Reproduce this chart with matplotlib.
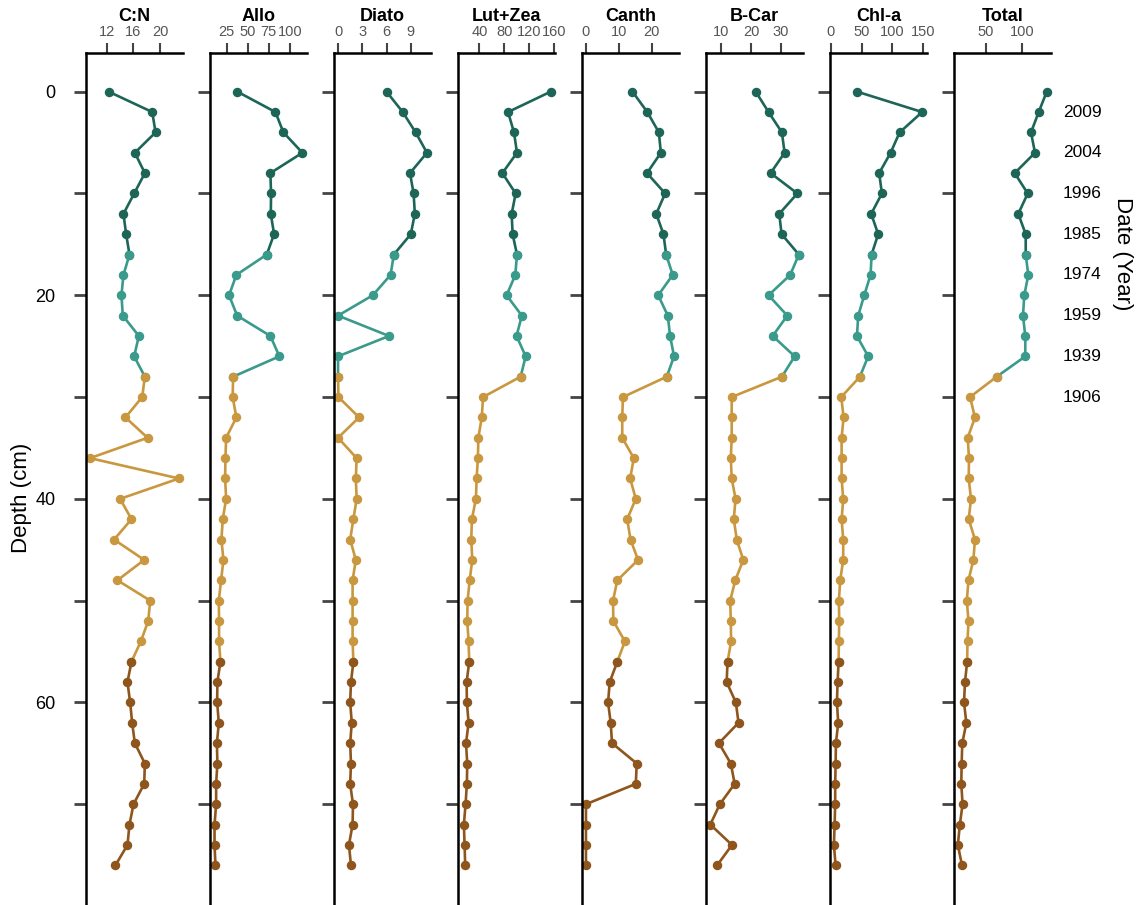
import numpy as np
import matplotlib
matplotlib.use("Agg")
import matplotlib.pyplot as plt

plt.rcParams['font.family'] = ['Liberation Sans', 'DejaVu Sans']

# depth of each sample (cm)
depth = np.arange(0, 78, 2)

cn = [12.3, 18.8, 19.3, 16.2, 17.7, 16.1, 14.5, 14.9, 15.4, 14.5, 14.2, 14.4, 16.8,
      16.1, 17.7, 17.3, 14.8, 18.1, 9.5, 22.8, 14.0, 15.7, 13.1, 17.6, 13.6, 18.5,
      18.2, 17.1, 15.7, 15.1, 15.5, 15.8, 16.2, 17.7, 17.6, 16.0, 15.4, 15.1, 13.3]
allo = [37.6, 82.9, 92.4, 115, 76.9, 77.7, 77.4, 81.3, 72.6, 36.4, 27.7, 37.3, 76.9,
        87.6, 32.5, 32.0, 36.4, 24.2, 23.4, 23.0, 24.2, 20.2, 18.6, 21.0, 18.2, 15.5,
        15.8, 15.8, 17.4, 13.8, 13.5, 15.5, 13.2, 13.8, 12.3, 12.3, 10.4, 10.4, 11.5]
diato = [6.0, 8.0, 9.6, 11.0, 8.9, 9.35, 9.5, 9.0, 6.9, 6.5, 4.3, 0.0, 6.3,
         0.0, 0.0, 0.05, 2.6, 0.0, 2.3, 2.2, 2.3, 1.9, 1.5, 2.2, 1.8, 1.8,
         1.8, 1.8, 1.9, 1.6, 1.5, 1.7, 1.5, 1.6, 1.5, 1.85, 1.8, 1.35, 1.6]
lutzea = [155, 86.3, 95.9, 100.7, 77.1, 98.6, 92.1, 93.7, 100.7, 98.0, 84.0, 108.5, 100.0,
          114.7, 106.6, 46.0, 43.9, 38.4, 37.7, 35.6, 34.5, 28.0, 27.0, 28.6, 24.4, 21.1,
          20.5, 22.7, 23.7, 19.5, 19.9, 22.7, 18.5, 20.5, 19.9, 17.8, 15.1, 16.2, 17.2]
canth = [14.2, 18.7, 22.2, 22.8, 18.6, 24.1, 21.4, 23.6, 24.4, 26.4, 22.0, 24.9, 25.6,
         26.8, 24.6, 11.3, 11.1, 11.1, 14.6, 13.5, 15.2, 12.6, 13.6, 15.9, 9.6, 8.3,
         8.4, 11.9, 9.6, 7.3, 6.8, 7.6, 8.0, 15.5, 15.2, 0.1, 0.1, 0.1, 0.1]
bcar = [21.6, 25.9, 30.4, 31.3, 26.6, 35.6, 29.5, 30.3, 36.1, 33.2, 25.9, 32.2, 27.3,
        34.7, 30.4, 13.5, 13.5, 13.5, 13.2, 13.5, 14.8, 14.2, 15.2, 17.4, 14.7, 13.0,
        13.2, 13.3, 12.1, 11.8, 14.9, 15.8, 9.2, 13.2, 14.5, 9.5, 6.3, 13.6, 8.6]
chla = [43, 148.2, 111.7, 97.1, 78.6, 83.0, 65.7, 77.0, 66.3, 64.7, 54.4, 44.7, 42.6,
        60.8, 47.4, 17.2, 21.0, 17.8, 17.8, 17.8, 20.4, 17.8, 20.4, 20.4, 15.5, 13.4,
        13.9, 13.4, 12.9, 11.3, 10.2, 12.3, 8.6, 8.1, 7.4, 7.4, 6.5, 5.3, 8.1]
total = [135, 123.8, 113, 118.6, 90.2, 108.4, 95.2, 105.6, 105.6, 109.2, 103.6, 101.8, 105,
         105, 65, 27.6, 34.6, 24.4, 26.2, 25.8, 29.0, 25.8, 34.6, 32.3, 25.5, 23.1,
         25.5, 24.1, 23.6, 20.6, 19.2, 22.5, 16.8, 15.9, 15.4, 17.2, 13.4, 10.6, 16.4]

titles = ["C:N", "Allo", "Diato", "Lut+Zea", "Canth", "B-Car", "Chl-a", "Total"]
series = [cn, allo, diato, lutzea, canth, bcar, chla, total]
xlims = [(8.9, 23.4), (5, 120.5), (-0.5, 11.5), (5.6, 162),
         (-1.1, 28.3), (4.85, 37.5), (-1, 156), (5.2, 141)]
xticks = [[12, 16, 20], [25, 50, 75, 100], [0, 3, 6, 9], [40, 80, 120, 160],
          [0, 10, 20], [10, 20, 30], [0, 50, 100, 150], [50, 100]]

date_depth = [2, 6, 10, 14, 18, 22, 26, 30]
date_year = ["2009", "2004", "1996", "1985", "1974", "1959", "1939", "1906"]

# zone index ranges; each zone starts at the last point of the zone above
zones = [(0, 9), (8, 15), (14, 29), (28, 39)]
zone_cols = ["#1d6657", "#3a9a8b", "#c9973f", "#8e551c"]

W, H = 1143, 905
fig = plt.figure(figsize=(W / 100, H / 100), dpi=100)

left0 = 86 / W
step = 124 / W
width = 97 / W
top = 1 - 53 / H

for i in range(8):
    ax = fig.add_axes([left0 + i * step, 0, width, top])
    vals = np.array(series[i])
    for (a, b), c in zip(zones, zone_cols):
        ax.plot(vals[a:b], depth[a:b], color=c, lw=1.9, marker='o', ms=5.8,
                solid_capstyle='round', clip_on=False)
    ax.set_xlim(*xlims[i])
    ax.set_ylim(79.9, -3.8)
    ax.xaxis.tick_top()
    ax.set_xticks(xticks[i])
    ax.tick_params(axis='x', direction='out', length=7.5, width=1.5, color='#444444',
                   labelsize=10.5, labelcolor='#555555', pad=2.5)
    ax.set_yticks(np.arange(0, 80, 10))
    ax.tick_params(axis='y', direction='out', length=9, width=2, color='#444444',
                   labelsize=13, pad=13)
    if i == 0:
        ax.set_yticklabels(["0", "", "20", "", "40", "", "60", ""])
    else:
        ax.set_yticklabels([])
    for s in ['right', 'bottom']:
        ax.spines[s].set_visible(False)
    for s in ['left', 'top']:
        ax.spines[s].set_linewidth(1.8)
        ax.spines[s].set_color('black')
    ax.set_title(titles[i], fontsize=13, fontweight='bold', pad=3)
    ax.patch.set_alpha(0)

    if i == 7:
        for d, yr in zip(date_depth, date_year):
            ax.text(1.12, d, yr, transform=ax.get_yaxis_transform(), fontsize=12.5,
                    va='center', ha='left')

fig.text(22 / W, 1 - 498 / H, "Depth (cm)", rotation=90, fontsize=16,
         va='center', ha='center')
fig.text(1123 / W, 1 - 254 / H, "Date (Year)", rotation=270, fontsize=16,
         va='center', ha='center')

fig.savefig("out.png", dpi=100)
